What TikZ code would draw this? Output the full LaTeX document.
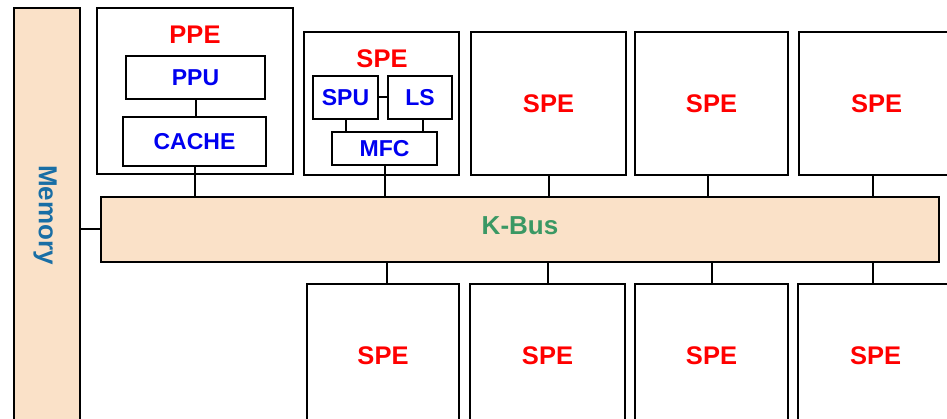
\documentclass[tikz,border=0pt]{standalone}
\usepackage{fontspec}
\setmainfont{Liberation Sans}
\usetikzlibrary{calc}
\definecolor{peach}{RGB}{250,225,200}
\definecolor{memblue}{RGB}{25,110,165}
\definecolor{busgreen}{RGB}{58,152,100}
\definecolor{spered}{RGB}{255,0,0}
\definecolor{inblue}{RGB}{0,0,240}
\begin{document}
\begin{tikzpicture}[x=1pt,y=-1pt,
  box/.style={draw=black,line width=2.4pt,fill=white,inner sep=0pt,rectangle},
  peachbox/.style={draw=black,line width=2.4pt,fill=peach,inner sep=0pt,rectangle},
  redlbl/.style={text=spered,font=\bfseries\fontsize{25.5}{25.5}\selectfont,inner sep=0pt},
  bluelbl/.style={text=inblue,font=\bfseries\fontsize{23}{23}\selectfont,inner sep=0pt},
  wire/.style={draw=black,line width=2pt}]
\useasboundingbox (0,0) rectangle (947,419);
\clip (0,0) rectangle (947,419);
% Memory
\node[peachbox,minimum width=66pt,minimum height=432pt] (mem) at (47,224) {};
\node[rotate=-90,text=memblue,font=\bfseries\fontsize{26}{26}\selectfont,inner sep=0pt] (memlbl) at (45,215) {Memory};
% K-Bus
\node[peachbox,minimum width=838pt,minimum height=65pt] (bus) at (520,229.5) {};
\node[text=busgreen,font=\bfseries\fontsize{26}{26}\selectfont,inner sep=0pt] (buslbl) at (520,226) {K-Bus};
% PPE
\node[box,minimum width=196pt,minimum height=166pt] (ppe) at (195,91) {};
\node[redlbl] (ppelbl) at (195,35) {PPE};
\node[box,minimum width=139pt,minimum height=43pt,bluelbl] (ppu) at (195.5,77.5) {PPU};
\node[box,minimum width=143pt,minimum height=49pt,bluelbl] (cache) at (194.5,141.5) {CACHE};
% detailed SPE
\node[box,minimum width=155pt,minimum height=143pt] (spe0) at (381.5,103.5) {};
\node[redlbl] (spe0lbl) at (382,59) {SPE};
\node[box,minimum width=65pt,minimum height=43pt,bluelbl] (spu) at (345.5,97.5) {SPU};
\node[box,minimum width=64pt,minimum height=43pt,bluelbl] (ls) at (420,97.5) {LS};
\node[box,minimum width=105pt,minimum height=33pt,bluelbl] (mfc) at (384.5,148.5) {MFC};
% top SPEs
\node[box,minimum width=155pt,minimum height=143pt,redlbl] (t1) at (548.5,103.5) {SPE};
\node[box,minimum width=153pt,minimum height=143pt,redlbl] (t2) at (711.5,103.5) {SPE};
\node[box,minimum width=155pt,minimum height=143pt,redlbl] (t3) at (876.5,103.5) {SPE};
% bottom SPEs
\node[box,minimum width=152pt,minimum height=144pt,redlbl] (b0) at (383,356) {SPE};
\node[box,minimum width=155pt,minimum height=144pt,redlbl] (b1) at (547.5,356) {SPE};
\node[box,minimum width=153pt,minimum height=144pt,redlbl] (b2) at (711.5,356) {SPE};
\node[box,minimum width=155pt,minimum height=144pt,redlbl] (b3) at (875.5,356) {SPE};
% connectors
\draw[wire] (ppu.south) -- (ppu.south |- cache.north);
\draw[wire] (cache.south) -- (cache.south |- bus.north);
\draw[wire] (spu.east) -- (spu.east -| ls.west);
\draw[wire] (spu.south) -- (spu.south |- mfc.north);
\draw[wire] ($(ls.south)+(3,0)$) coordinate (lsd) -- (lsd |- mfc.north);
\draw[wire] (mfc.south) -- (mfc.south |- bus.north);
\draw[wire] (t1.south) -- (t1.south |- bus.north);
\draw[wire] ($(t2.south)+(-4,0)$) coordinate (t2d) -- (t2d |- bus.north);
\draw[wire] ($(t3.south)+(-3.5,0)$) coordinate (t3d) -- (t3d |- bus.north);
\draw[wire] ($(b0.north)+(4,0)$) coordinate (b0u) -- (b0u |- bus.south);
\draw[wire] (b1.north) -- (b1.north |- bus.south);
\draw[wire] (b2.north) -- (b2.north |- bus.south);
\draw[wire] ($(b3.north)+(-2.5,0)$) coordinate (b3u) -- (b3u |- bus.south);
\draw[wire] (bus.west) -- (bus.west -| mem.east);
\end{tikzpicture}
\end{document}
